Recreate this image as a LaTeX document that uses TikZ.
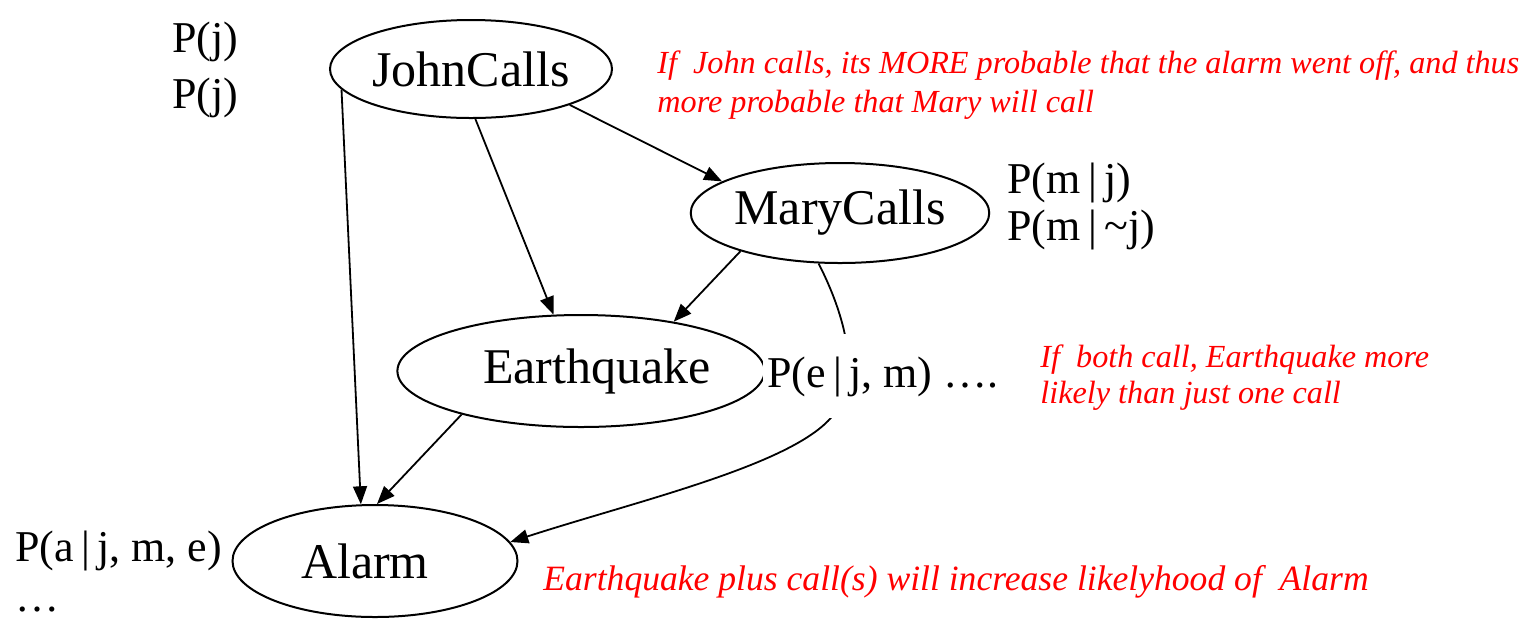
\documentclass[tikz,border=0pt]{standalone}
\usepackage{fontspec}
\setmainfont{Liberation Serif}
\usepackage{xcolor}
\usetikzlibrary{shapes,arrows.meta,positioning}

\tikzset{
    var/.style={ellipse, draw, line width=1pt, inner sep=0pt, font=\fontsize{25pt}{29pt}\selectfont},
    prob/.style={inner sep=0pt, align=left, font=\fontsize{22pt}{28pt}\selectfont},
    note/.style={inner sep=0pt, align=left, text=red, font=\fontsize{16.1pt}{19.5pt}\selectfont\itshape},
    link/.style={-{Triangle[length=9pt,width=7pt]}, line width=0.9pt},
}

\begin{document}
\begin{tikzpicture}[x=0.5pt, y=-0.5pt]
\useasboundingbox (0,0) rectangle (1522,623);

% variables
\node[var, minimum width=141pt, minimum height=49pt] (john) at (471,69) {JohnCalls};
\node[var, minimum width=143pt, minimum height=50pt] (mary) at (840,213) {MaryCalls};
\node[var, minimum width=158.5pt, minimum height=56pt] (quake) at (581,371) {\kern16pt Earthquake};
\node[var, minimum width=142.5pt, minimum height=56pt] (alarm) at (375,561) {Alarm\kern10pt};

% links
\draw[link] (john.189) -- (alarm.104);
\draw[link] (john.275) -- (quake.116);
\draw[link] (john.340) -- (mary.165);
\draw[link] (mary.201) -- (quake.28);
\draw[link] (quake.200) -- (alarm.88);
\coordinate (bend) at (834,414);
\draw[link] (mary.247) .. controls (845,315) and (862,378) .. (bend)
    .. controls (797,464) and (640,500) .. (alarm.8);

% probabilities (base = last line)
\node[prob, anchor=base west] (pj) at (172,108) {P(j)\\P(j)};
\node[prob, anchor=base west, font=\fontsize{22pt}{23.5pt}\selectfont] (pm) at (1007,240) {P(m\,|\,j)\\P(m\,|\,\textasciitilde j)};
\node[prob, anchor=base west, fill=white, minimum height=42pt, inner xsep=2pt] (pe) at (763,387) {P(e\,|\,j, m) \dots.};
\node[prob, anchor=base west, font=\fontsize{22pt}{25pt}\selectfont] (pa) at (15,611) {P(a\,|\,j, m, e)\\\dots};

% notes
\node[note, anchor=base west] (n1) at (657,112) {If\ \ John calls, its MORE probable that the alarm went off, and thus\\more probable that Mary will call};
\node[note, anchor=base west, font=\fontsize{16.1pt}{18pt}\selectfont\itshape] (n2) at (1040,403) {If\ \ both call, Earthquake more\\likely than just one call};
\node[note, anchor=base west, font=\fontsize{17.8pt}{20pt}\selectfont\itshape] (n3) at (543,590) {Earthquake plus call(s) will increase likelyhood of\ \ Alarm};

\end{tikzpicture}
\end{document}
